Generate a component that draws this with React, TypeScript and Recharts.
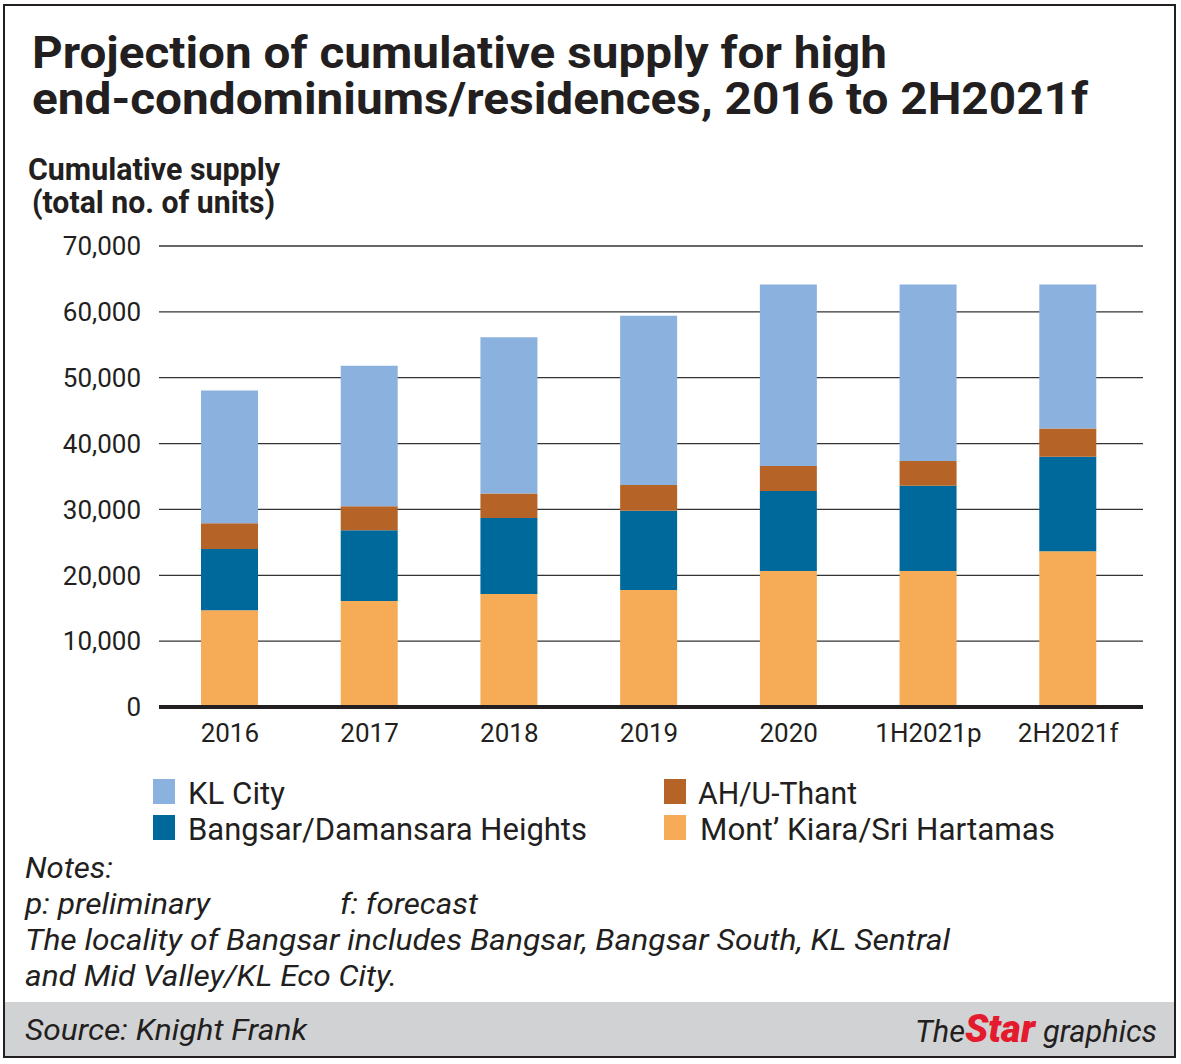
import React from 'react';
import { BarChart, Bar, XAxis, YAxis, CartesianGrid } from 'recharts';

const categories = ['2016', '2017', '2018', '2019', '2020', '1H2021p', '2H2021f'];
const montKiara = [14700, 16100, 17150, 17750, 20650, 20650, 23650];
const bangsar = [9300, 10750, 11550, 12050, 12150, 12950, 14350];
const ahUThant = [3900, 3650, 3700, 3900, 3800, 3750, 4300];
const klCity = [20150, 21300, 23750, 25700, 27550, 26800, 21850];
const yTicks = [0, 10000, 20000, 30000, 40000, 50000, 60000, 70000];

const seriesNames = {
  kl: 'KL City',
  ah: 'AH/U-Thant',
  bangsar: 'Bangsar/Damansara Heights',
  mont: 'Mont\u2019 Kiara/Sri Hartamas',
};
const colors = {
  kl: '#8bb2de',
  ah: '#b66328',
  bangsar: '#00699b',
  mont: '#f6ab57',
};

const data = categories.map((c, i) => ({
  name: c,
  mont: montKiara[i],
  bangsar: bangsar[i],
  ah: ahUThant[i],
  kl: klCity[i],
}));

const INK = '#231f20';
const fmt = (v: number) => v.toLocaleString('en-US');

const legendItems = [
  { key: 'kl', x: 153, y: 779, tx: 188, by: 804, w: 97 },
  { key: 'bangsar', x: 153, y: 815, tx: 188, by: 840, w: 399 },
  { key: 'ah', x: 664, y: 779, tx: 698, by: 804, w: 159 },
  { key: 'mont', x: 664, y: 815, tx: 700, by: 840, w: 355 },
];

export default function App() {
  return (
    <div style={{ position: 'relative', width: 1181, height: 1064, background: '#fff', overflow: 'hidden' }}>
      <style>{'body{margin:0;}'}</style>
      {/* footer band */}
      <div style={{ position: 'absolute', left: 5, top: 1002, width: 1169, height: 54, background: '#d1d2d4' }} />
      {/* frame */}
      <div style={{ position: 'absolute', left: 3, top: 4, width: 1169, height: 1050, border: `2px solid ${INK}` }} />
      <div style={{ position: 'absolute', left: 0, top: 0 }}>
        <BarChart
          width={1181}
          height={800}
          data={data}
          margin={{ top: 246, right: 38, bottom: 53, left: 0 }}
          barSize={57}
        >
          <CartesianGrid horizontal vertical={false} stroke="#333" strokeWidth={1.3} />
          <YAxis
            width={159}
            domain={[0, 70000]}
            ticks={yTicks}
            interval={0}
            tickFormatter={fmt}
            axisLine={false}
            tickLine={false}
            tickSize={0}
            tickMargin={18}
            tick={{ fontSize: 26, fill: INK, fontFamily: 'Roboto' }}
          />
          <XAxis
            dataKey="name"
            height={40}
            padding={{ left: 1, right: 5 }}
            axisLine={{ stroke: INK, strokeWidth: 4 }}
            tickLine={false}
            tickSize={0}
            tickMargin={17}
            interval={0}
            tick={{ fontSize: 26, fill: INK, fontFamily: 'Roboto' }}
          />
          <Bar dataKey="mont" stackId="a" fill={colors.mont} isAnimationActive={false} />
          <Bar dataKey="bangsar" stackId="a" fill={colors.bangsar} isAnimationActive={false} />
          <Bar dataKey="ah" stackId="a" fill={colors.ah} isAnimationActive={false} />
          <Bar dataKey="kl" stackId="a" fill={colors.kl} isAnimationActive={false} />
        </BarChart>
      </div>
      <svg
        width={1181}
        height={1064}
        style={{ position: 'absolute', left: 0, top: 0, pointerEvents: 'none' }}
        fontFamily="Roboto"
      >
        <g fill={INK}>
          <text x={32} y={68} fontSize={44} fontWeight={700} textLength={855} lengthAdjust="spacingAndGlyphs">
            Projection of cumulative supply for high
          </text>
          <text x={32} y={114} fontSize={44} fontWeight={700} textLength={1056} lengthAdjust="spacingAndGlyphs">
            end-condominiums/residences, 2016 to 2H2021f
          </text>
          <text x={28} y={180} fontSize={32} fontWeight={700} textLength={252} lengthAdjust="spacingAndGlyphs">
            Cumulative supply
          </text>
          <text x={32} y={213} fontSize={32} fontWeight={700} textLength={243} lengthAdjust="spacingAndGlyphs">
            (total no. of units)
          </text>
        </g>
        {legendItems.map((it) => (
          <g key={it.key}>
            <rect x={it.x} y={it.y} width={22} height={25} fill={(colors as any)[it.key]} />
            <text x={it.tx} y={it.by} fontSize={31} fill={INK} textLength={it.w} lengthAdjust="spacingAndGlyphs">
              {(seriesNames as any)[it.key]}
            </text>
          </g>
        ))}
        <g fill={INK} fontStyle="italic" fontSize={30}>
          <text x={25} y={878} textLength={88} lengthAdjust="spacingAndGlyphs">Notes:</text>
          <text x={25} y={914} textLength={185} lengthAdjust="spacingAndGlyphs">p: preliminary</text>
          <text x={340} y={914} textLength={138} lengthAdjust="spacingAndGlyphs">f: forecast</text>
          <text x={25} y={950} textLength={925} lengthAdjust="spacingAndGlyphs">
            The locality of Bangsar includes Bangsar, Bangsar South, KL Sentral
          </text>
          <text x={25} y={986} textLength={372} lengthAdjust="spacingAndGlyphs">and Mid Valley/KL Eco City.</text>
          <text x={25} y={1040} textLength={282} lengthAdjust="spacingAndGlyphs">Source: Knight Frank</text>
          <text x={915} y={1042} fontSize={32} textLength={50} lengthAdjust="spacingAndGlyphs">The</text>
          <text x={965} y={1042} fontSize={38} fontWeight={900} fill="#e31b2d" textLength={70} lengthAdjust="spacingAndGlyphs">Star</text>
          <text x={1043} y={1042} fontSize={32} textLength={114} lengthAdjust="spacingAndGlyphs">graphics</text>
        </g>
      </svg>
    </div>
  );
}
